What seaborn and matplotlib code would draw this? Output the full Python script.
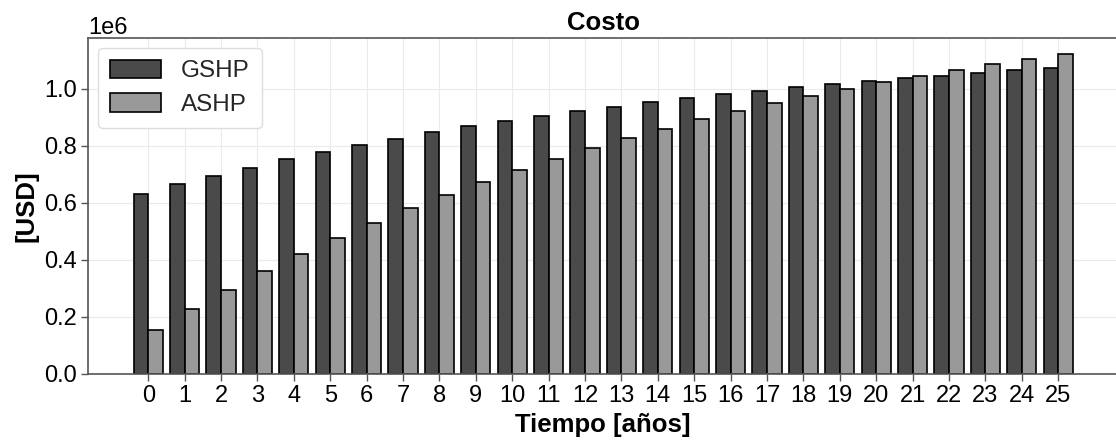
import matplotlib
matplotlib.use("Agg")
import pandas as pd
import matplotlib.pyplot as plt
import seaborn as sns

# ==========================
# DATA (USD)
# ==========================

years = list(range(26))

gshp = [632000, 666000, 695000, 724000, 753000, 778000, 804000, 826000, 848000,
        869000, 888000, 905000, 921000, 938000, 953000, 967000, 982000, 994000,
        1007000, 1018000, 1028000, 1037000, 1047000, 1056000, 1066000, 1073000]

ashp = [155000, 227000, 296000, 360000, 420000, 478000, 531000, 582000, 628000,
        674000, 717000, 756000, 793000, 828000, 861000, 893000, 921000, 950000,
        977000, 1001000, 1025000, 1046000, 1067000, 1088000, 1105000, 1123000]

systems = ["GSHP", "ASHP"]
colors = ["#4a4a4a", "#999999"]

df = pd.DataFrame({
    "Tiempo": years * 2,
    "Costo": gshp + ashp,
    "Sistema": [systems[0]] * len(years) + [systems[1]] * len(years),
})

# ==========================
# PLOT
# ==========================

sns.set_theme(style="whitegrid")
plt.rcParams["font.family"] = ["Liberation Sans", "DejaVu Sans"]

fig = plt.figure(figsize=(11.16, 4.41), dpi=100)
ax = fig.add_axes([0.079, 0.152, 0.923, 0.762])

sns.barplot(data=df, x="Tiempo", y="Costo", hue="Sistema",
            palette=colors, saturation=1, edgecolor="black",
            linewidth=1.2, ax=ax)

ax.set_xlim(-1.65, 26.65)
ax.set_ylim(0, max(max(gshp), max(ashp)) * 1.05)

ax.grid(True, axis="both", color="#ebebeb", linewidth=0.8)
ax.set_axisbelow(True)

for side in ["left", "bottom", "top", "right"]:
    ax.spines[side].set_color("#555555")
    ax.spines[side].set_linewidth(1.2)

ax.tick_params(axis="both", direction="out", length=5, width=1,
               color="#555555", labelsize=17, left=True, bottom=True,
               labelcolor="black", pad=3)
ax.yaxis.get_offset_text().set_fontsize(17)
ax.yaxis.get_offset_text().set_color("black")

ax.set_title("Costo", fontsize=18.5, fontweight="bold", pad=6, color="black")
ax.set_xlabel("Tiempo [años]", fontsize=18.5, fontweight="bold", color="black")
ax.set_ylabel("[USD]", fontsize=18.5, fontweight="bold", color="black")

sns.move_legend(ax, "upper left", title=None, fontsize=17.5, frameon=True,
                fancybox=True, edgecolor="#dddddd", framealpha=1,
                handlelength=2.1, handleheight=0.78, handletextpad=0.82,
                labelspacing=0.45, borderpad=0.5, borderaxespad=0.4)

plt.savefig("out.png", dpi=100)
plt.close()
